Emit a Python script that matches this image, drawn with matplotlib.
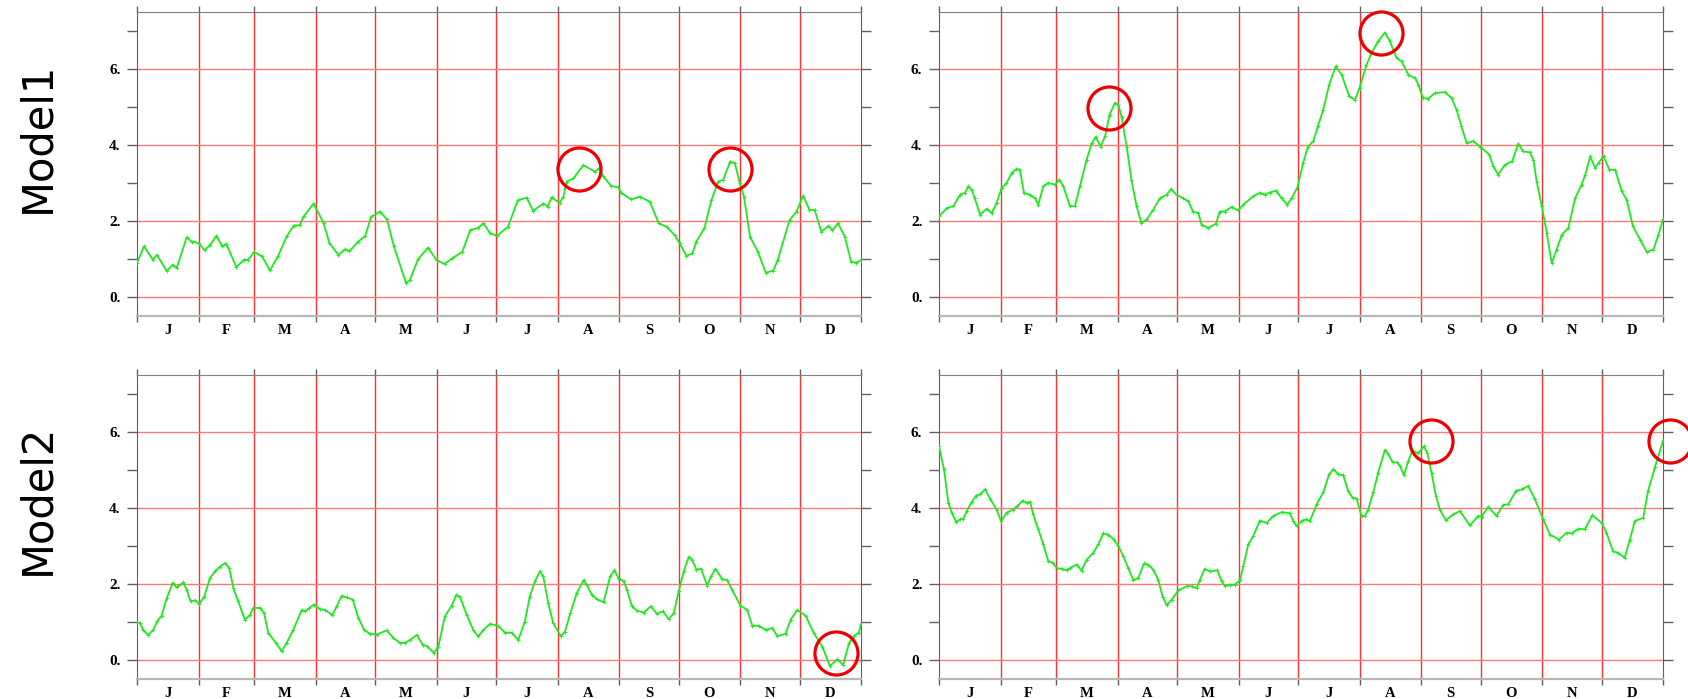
"""Daily series for two models, two panels each, with month grid and marked peaks."""

import matplotlib
matplotlib.use("Agg")
import matplotlib.pyplot as plt

MONTH_EDGES = [0, 31, 59, 90, 120, 151, 181, 212, 243, 273, 304, 334, 365]
MONTH_LABELS = ["J", "F", "M", "A", "M", "J", "J", "A", "S", "O", "N", "D"]
ROW_LABELS = ["Model1", "Model2"]
Y_MAJOR = [0, 2, 4, 6]
Y_LABELS = ["0.", "2.", "4.", "6."]

# Model1, left panel
m1_left_day = [0, 3.5, 8, 10, 15, 18, 20, 25, 27.5, 31, 34, 37, 40, 43, 45, 50, 54, 56, 59, 63,
               67, 71, 75.5, 79, 82, 84, 89, 94, 97, 101.5, 105, 107, 111.5, 115, 118, 122.5,
               126, 129.5, 135.6, 137.6, 141.6, 146.7, 151, 155, 159, 164, 168, 172, 174.6, 178,
               181.6, 187, 192, 196.4, 199.7, 204.8, 207, 209, 213, 214.9, 216.6, 220, 225, 230.8,
               233, 235, 239, 242.6, 244, 249, 253.5, 258.5, 263, 267, 271, 273.6, 277, 280, 282,
               286, 289.6, 293, 295.5, 299, 301.4, 303.9, 306, 309, 313, 317, 320.7, 323, 329,
               332.5, 335.8, 339, 341.6, 345, 348.5, 350.6, 353.4, 356.8, 360, 362.7, 365]
m1_left_val = [0.90, 1.33, 0.98, 1.11, 0.68, 0.85, 0.76, 1.57, 1.46, 1.42, 1.23, 1.38, 1.61, 1.33,
               1.40, 0.79, 0.98, 0.98, 1.18, 1.07, 0.70, 1.07, 1.60, 1.88, 1.89, 2.12, 2.46, 1.95,
               1.42, 1.11, 1.26, 1.20, 1.46, 1.60, 2.11, 2.25, 2.04, 1.33, 0.37, 0.45, 0.99, 1.30,
               0.97, 0.87, 1.02, 1.19, 1.76, 1.82, 1.94, 1.68, 1.61, 1.85, 2.55, 2.61, 2.27, 2.46,
               2.38, 2.62, 2.48, 2.64, 3.04, 3.12, 3.47, 3.30, 3.39, 3.18, 2.92, 2.89, 2.75, 2.57,
               2.64, 2.51, 1.94, 1.85, 1.63, 1.41, 1.08, 1.15, 1.46, 1.81, 2.55, 3.04, 3.08, 3.56,
               3.52, 2.99, 2.64, 1.59, 1.19, 0.64, 0.69, 0.97, 2.03, 2.25, 2.67, 2.29, 2.29, 1.72,
               1.87, 1.76, 1.94, 1.59, 0.93, 0.90, 0.97]
m1_left_marks = [(223, 3.37), (299, 3.37)]

# Model1, right panel
m1_right_day = [0, 3.9, 7.2, 10.6, 13, 14.8, 16.5, 18, 20.7, 24, 26.5, 29, 31.6, 34, 36.6, 39,
                40.8, 42.8, 45.9, 48.4, 50, 52.6, 55, 58.5, 60.7, 62.7, 66, 68.5, 71, 74.4, 77,
                79, 81.5, 83.7, 86, 88.7, 90.4, 92, 94.6, 97, 99.6, 102, 104.7, 108, 111.4, 114.7,
                117, 119.8, 123, 125.7, 128, 130.7, 132.4, 135.8, 139.6, 141.6, 144, 147.5, 150.9,
                153.4, 158.4, 161.8, 164.3, 166.8, 169.9, 172.7, 175.6, 177.7, 180.6, 183.6, 186,
                188.7, 191, 193.7, 196.7, 200, 203, 206.8, 209.7, 212, 215.5, 218, 221.4, 224.8,
                227.3, 230.7, 233.2, 236.6, 240, 241.6, 244, 246.7, 250, 255, 258.4, 260.9, 263.4,
                266, 269.3, 272.7, 277.4, 279.4, 281.9, 285.3, 289, 292, 294.5, 297.9, 299.7,
                301.3, 303.9, 306.4, 308.9, 311.4, 314, 317.3, 320.7, 324, 325.8, 328.3, 330.8,
                332.5, 335, 338, 340.9, 344.2, 346.7, 349.8, 353.5, 356.8, 360.2, 362.7, 365]
m1_right_val = [2.12, 2.34, 2.39, 2.69, 2.74, 2.91, 2.82, 2.60, 2.17, 2.32, 2.21, 2.47, 2.87, 3.00,
                3.26, 3.37, 3.35, 2.74, 2.69, 2.60, 2.43, 2.91, 3.00, 2.96, 3.09, 2.91, 2.39, 2.39,
                2.91, 3.61, 4.05, 4.21, 3.96, 4.23, 4.80, 5.11, 5.06, 4.75, 3.96, 3.09, 2.39, 1.95,
                2.04, 2.30, 2.60, 2.69, 2.84, 2.69, 2.60, 2.52, 2.25, 2.21, 1.90, 1.82, 1.93, 2.25,
                2.25, 2.37, 2.28, 2.43, 2.65, 2.74, 2.69, 2.75, 2.80, 2.60, 2.43, 2.60, 2.87, 3.53,
                3.96, 4.10, 4.49, 4.93, 5.59, 6.07, 5.85, 5.28, 5.19, 5.50, 6.11, 6.42, 6.73, 6.96,
                6.73, 6.29, 6.20, 5.85, 5.76, 5.59, 5.24, 5.22, 5.37, 5.39, 5.24, 4.93, 4.49, 4.05,
                4.10, 3.96, 3.75, 3.44, 3.22, 3.48, 3.57, 4.04, 3.83, 3.81, 3.61, 3.04, 2.39, 1.68,
                0.89, 1.25, 1.64, 1.82, 2.60, 2.96, 3.22, 3.70, 3.39, 3.53, 3.70, 3.35, 3.35, 2.78,
                2.56, 1.86, 1.51, 1.18, 1.25, 1.64, 2.04]
m1_right_marks = [(85.5, 4.97), (222.6, 6.94)]

# Model2, left panel
m2_left_day = [0, 1.5, 3.2, 5.7, 8.2, 10.2, 12.4, 15, 18, 20, 23.4, 25, 27, 29.2, 31.4, 33.8, 36.8,
               39.3, 41.8, 44.4, 46.5, 48.6, 51, 54.4, 57, 58.6, 62, 64, 66.2, 70, 72.9, 75.4,
               78.8, 83, 84.7, 86.9, 89.2, 92.2, 94.8, 98.5, 100.6, 103.2, 105.7, 108.7, 111.6,
               114.4, 117.4, 120.8, 125.8, 129.2, 132.6, 135, 137.6, 141, 144, 146, 149.7, 151.9,
               155.2, 158.6, 161, 162.8, 166.2, 169.5, 172, 174.6, 177.9, 182, 185.5, 188.8,
               192.2, 195.5, 198, 200.6, 203.1, 204.8, 207.3, 209.8, 213.6, 215.8, 218.4, 221.7,
               225.1, 226.7, 229.3, 231.8, 235.2, 238.5, 240.7, 242.7, 245.3, 247, 249.5, 252,
               255.4, 259, 262, 265, 268, 270.6, 273.1, 275.6, 278.1, 279.8, 282, 284.4, 287.4,
               289.4, 291.6, 295, 297.5, 300, 304.2, 307.6, 310.2, 313.5, 316.9, 320.2, 322.8,
               327, 329.5, 332.9, 337.1, 341.3, 345.5, 349.3, 353, 356, 358.9, 361.4, 363.9, 365]
m2_left_val = [0.99, 0.97, 0.78, 0.66, 0.80, 1.02, 1.17, 1.63, 2.03, 1.91, 2.04, 1.85, 1.54, 1.57,
               1.48, 1.66, 2.16, 2.33, 2.46, 2.55, 2.42, 1.89, 1.54, 1.06, 1.19, 1.37, 1.37, 1.24,
               0.71, 0.45, 0.23, 0.45, 0.80, 1.31, 1.28, 1.37, 1.46, 1.34, 1.32, 1.18, 1.41, 1.69,
               1.65, 1.59, 1.11, 0.80, 0.69, 0.67, 0.78, 0.58, 0.45, 0.45, 0.53, 0.66, 0.40, 0.37,
               0.19, 0.35, 1.15, 1.43, 1.72, 1.66, 1.19, 0.79, 0.62, 0.79, 0.95, 0.90, 0.72, 0.72,
               0.53, 1.01, 1.67, 2.07, 2.33, 2.20, 1.50, 0.97, 0.63, 0.75, 1.23, 1.76, 2.10, 1.98,
               1.72, 1.60, 1.52, 2.20, 2.36, 2.16, 2.07, 1.85, 1.41, 1.30, 1.25, 1.41, 1.22, 1.28,
               1.08, 1.23, 1.81, 2.33, 2.71, 2.64, 2.38, 2.40, 1.96, 2.20, 2.40, 2.13, 2.10, 1.85,
               1.43, 1.32, 0.90, 0.90, 0.79, 0.84, 0.63, 0.69, 1.06, 1.32, 1.16, 0.70, 0.35, -0.16,
               0.02, -0.13, 0.44, 0.63, 0.72, 0.95]
m2_left_marks = [(352.6, 0.18)]

# Model2, right panel
m2_right_day = [0, 2.5, 4.7, 6.4, 8.6, 10.6, 12.3, 14, 16.5, 18.6, 20.7, 23.2, 25.7, 29, 31.3,
                34.1, 37.5, 39.5, 42.2, 44.2, 45.9, 47.5, 50, 52.6, 55.1, 57.3, 59.3, 61.8, 64.3,
                66, 69.4, 71.9, 74.4, 77.8, 80.3, 82.8, 85.3, 88.2, 90.4, 92.9, 95.4, 98, 100.5,
                103.3, 105.5, 108, 110.5, 112.7, 114.8, 117.3, 120.6, 124.8, 127.4, 129.9, 131.5,
                134, 136.6, 140.3, 142.5, 144.2, 146.7, 149.2, 151.7, 153.4, 155.9, 158.4, 161.8,
                165.2, 168.5, 172.7, 176.9, 178.6, 180.3, 182.8, 185, 187, 190.4, 193.7, 196.7,
                198.8, 201.3, 203.8, 206.3, 208.5, 210.5, 213, 214.7, 216.4, 218.9, 221.4, 224.8,
                226.5, 228.7, 230.7, 232.4, 234.4, 236.6, 238.7, 241.6, 244.4, 246.1, 248.3, 250.5,
                252.5, 255.5, 259.2, 262.6, 267.6, 271.8, 273.5, 276.9, 281.1, 284.4, 287, 290.9,
                293.7, 297.1, 300.4, 304.6, 308, 312.6, 316.4, 318.9, 322.2, 325.6, 329.4, 334,
                336.5, 339.8, 342.4, 345.7, 348.3, 350.8, 355, 357.5, 360.9, 365]
m2_right_val = [5.62, 5.02, 4.14, 3.88, 3.63, 3.70, 3.72, 3.92, 4.16, 4.32, 4.36, 4.49, 4.25, 3.96,
                3.65, 3.88, 3.96, 4.05, 4.19, 4.14, 4.16, 3.83, 3.44, 3.04, 2.60, 2.56, 2.42, 2.40,
                2.36, 2.42, 2.51, 2.35, 2.64, 2.82, 3.04, 3.33, 3.30, 3.17, 3.00, 2.73, 2.42, 2.10,
                2.16, 2.54, 2.51, 2.38, 2.11, 1.67, 1.44, 1.59, 1.83, 1.94, 1.94, 1.89, 2.11, 2.40,
                2.33, 2.36, 2.07, 1.94, 1.98, 1.98, 2.10, 2.47, 3.04, 3.26, 3.67, 3.61, 3.79, 3.89,
                3.86, 3.66, 3.52, 3.66, 3.70, 3.66, 4.10, 4.41, 4.89, 5.02, 4.89, 4.86, 4.45, 4.27,
                4.25, 3.79, 3.79, 3.96, 4.41, 4.93, 5.53, 5.42, 5.20, 5.20, 5.11, 4.86, 5.24, 5.51,
                5.44, 5.62, 5.46, 4.93, 4.32, 3.96, 3.68, 3.83, 3.92, 3.54, 3.79, 3.77, 4.03, 3.79,
                4.08, 4.10, 4.45, 4.49, 4.58, 4.23, 3.70, 3.30, 3.17, 3.35, 3.33, 3.45, 3.44, 3.81,
                3.61, 3.35, 2.86, 2.82, 2.69, 3.17, 3.66, 3.74, 4.45, 5.07, 5.77]
m2_right_marks = [(248, 5.77), (368.5, 5.77)]

SERIF = ["Liberation Serif", "DejaVu Serif"]


def draw_panel(ax, days, vals, marks):
    for edge in MONTH_EDGES[1:-1]:
        ax.axvline(edge, color="#ff3030", lw=1.0, zorder=1)
    for y in Y_MAJOR:
        ax.axhline(y, color="#ff7878", lw=1.0, zorder=1)

    ax.plot(days, vals, color="#1fe81f", lw=1.3, marker="+", ms=2.5, mew=0.6, zorder=3)

    mx = [m[0] for m in marks]
    my = [m[1] for m in marks]
    ax.plot(mx, my, ls="none", marker="o", ms=31, mfc="none", mec="#ee0000",
            mew=2.3, clip_on=False, zorder=4)

    ax.set_xlim(0, 365)
    ax.set_ylim(-0.5, 7.5)

    mids = [(a + b) / 2 for a, b in zip(MONTH_EDGES[:-1], MONTH_EDGES[1:])]
    ax.set_xticks(MONTH_EDGES)
    ax.set_xticklabels([])
    ax.set_xticks(mids, minor=True)
    ax.set_xticklabels(MONTH_LABELS, minor=True, family=SERIF, fontweight="bold", fontsize=10.5)
    ax.tick_params(axis="x", which="major", direction="out", length=4, width=1,
                   top=True, bottom=True, color="#606060")
    ax.tick_params(axis="x", which="minor", length=0, pad=6)

    ax.set_yticks(Y_MAJOR)
    ax.set_yticklabels(Y_LABELS, family=SERIF, fontweight="bold", fontsize=11)
    ax.set_yticks([1, 3, 5, 7], minor=True)
    ax.tick_params(axis="y", which="both", direction="out", length=7, width=1,
                   left=True, right=True, color="#606060", pad=5)

    ax.spines["left"].set_color("#606060")
    ax.spines["right"].set_color("#606060")
    ax.spines["top"].set_color("#808080")
    ax.spines["bottom"].set_color("#b8b8b8")
    ax.spines["bottom"].set_linewidth(1.6)


def main() -> int:
    fig = plt.figure(figsize=(16.88, 6.99), dpi=100)

    w, h = 0.4289, 0.4349
    lefts = [0.0812, 0.5563]
    bottoms = [0.5479, 0.0286]
    panels = [
        [(m1_left_day, m1_left_val, m1_left_marks), (m1_right_day, m1_right_val, m1_right_marks)],
        [(m2_left_day, m2_left_val, m2_left_marks), (m2_right_day, m2_right_val, m2_right_marks)],
    ]
    for r, row in enumerate(panels):
        for c, (days, vals, marks) in enumerate(row):
            ax = fig.add_axes([lefts[c], bottoms[r], w, h])
            draw_panel(ax, days, vals, marks)

    for label, y in zip(ROW_LABELS, (0.803, 0.285)):
        fig.text(0.0219, y, label, rotation=90, ha="center", va="center",
                 fontsize=30, family="DejaVu Sans")

    fig.savefig("out.png", dpi=100)
    return 0


if __name__ == "__main__":
    raise SystemExit(main())
